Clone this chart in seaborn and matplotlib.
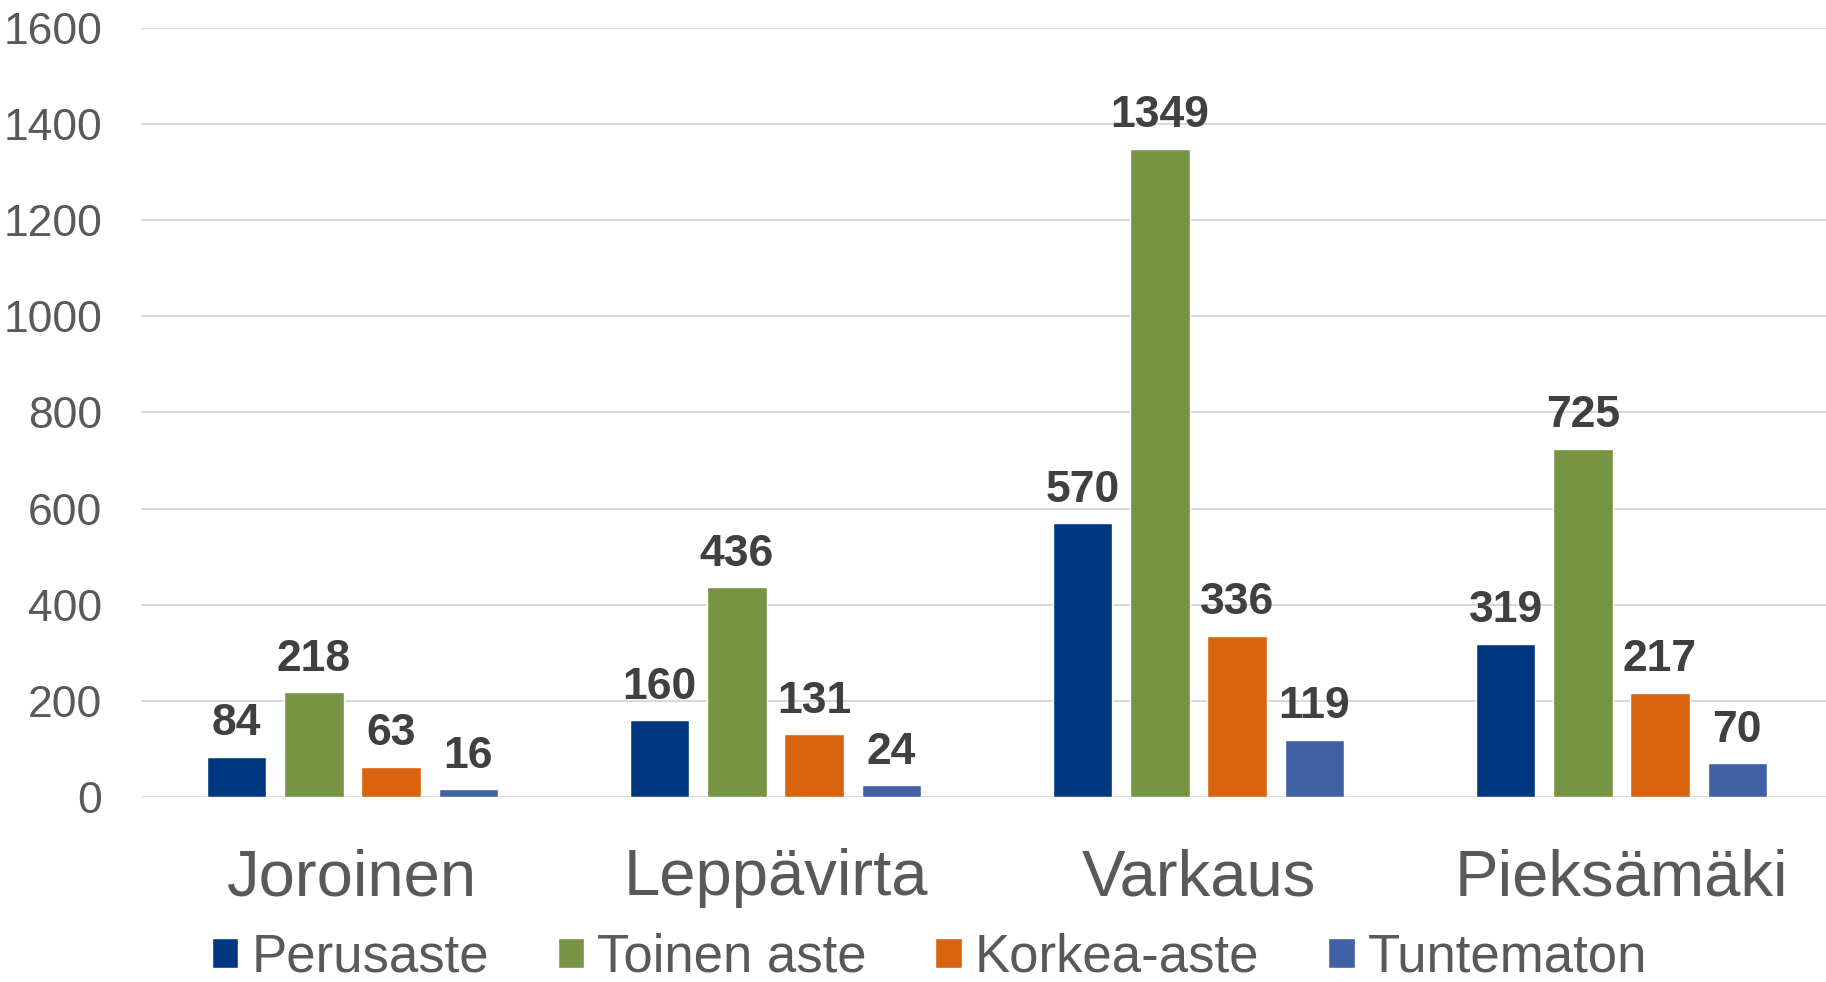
import pandas as pd
import seaborn as sns
import matplotlib.pyplot as plt

# data
towns = ['Joroinen', 'Leppävirta', 'Varkaus', 'Pieksämäki']
levels = ['Perusaste', 'Toinen aste', 'Korkea-aste', 'Tuntematon']
perusaste = [84, 160, 570, 319]
toinen_aste = [218, 436, 1349, 725]
korkea_aste = [63, 131, 336, 217]
tuntematon = [16, 24, 119, 70]
colors = ['#003781', '#779445', '#D9640F', '#4160A5']
y_ticks = [0, 200, 400, 600, 800, 1000, 1200, 1400, 1600]

series = [perusaste, toinen_aste, korkea_aste, tuntematon]
rows = []
for level, values in zip(levels, series):
    for town, v in zip(towns, values):
        rows.append({'town': town, 'level': level, 'count': v})
df = pd.DataFrame(rows)

sns.set_style('white')
plt.rcParams['font.family'] = ['Liberation Sans', 'DejaVu Sans']

fig = plt.figure(figsize=(18.26, 9.82), dpi=100)
ax = fig.add_axes([0.0772, 0.1884, 0.9266, 0.7831])

sns.barplot(data=df, x='town', y='count', hue='level', hue_order=levels,
            order=towns, palette=colors, width=0.73, gap=0.23,
            saturation=1, ax=ax, legend=True)

for c in ax.containers:
    ax.bar_label(c, fmt='%d', padding=9, fontsize=32, fontweight='bold',
                 color='#404040')

ax.set_xlim(-0.5, 3.5)
ax.set_ylim(0, 1600)
ax.set_yticks(y_ticks)
ax.set_xlabel('')
ax.set_ylabel('')
ax.grid(axis='y', color='#D9D9D9', linewidth=1.5)
ax.set_axisbelow(True)
for s in ax.spines.values():
    s.set_visible(False)
ax.tick_params(axis='y', length=0, pad=28, labelsize=32, labelcolor='#595959')
ax.tick_params(axis='x', length=0, pad=37, labelsize=47, labelcolor='#595959')

ax.legend_.remove()
handles, labels = ax.get_legend_handles_labels()
fig.legend(handles, labels, loc='center', bbox_to_anchor=(0.509, 0.025),
           ncol=4, frameon=False, fontsize=38, labelcolor='#595959',
           handlelength=0.5, handleheight=0.5, handletextpad=0.25,
           columnspacing=1.3, borderpad=0)

fig.savefig('out.png', dpi=100)
